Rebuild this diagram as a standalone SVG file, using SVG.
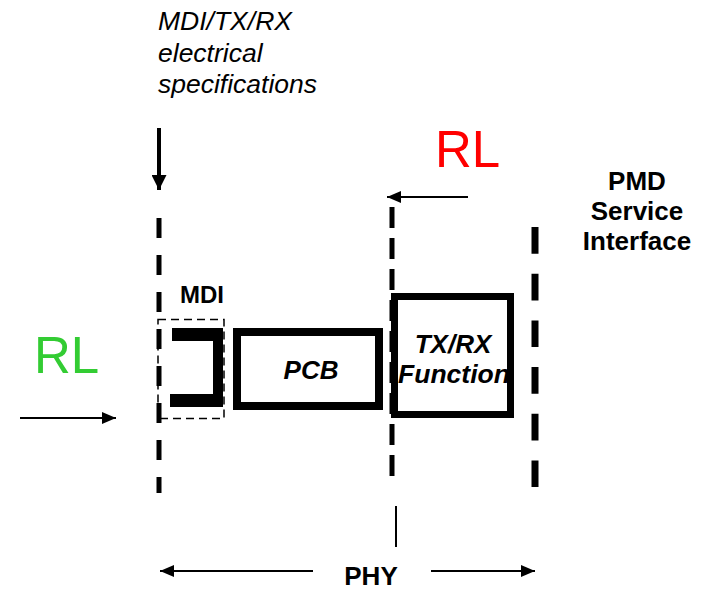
<svg xmlns="http://www.w3.org/2000/svg" width="706" height="590" viewBox="0 0 706 590">
<defs>
<style>
.t{font-family:"Liberation Sans",Arial,sans-serif;fill:#000}
.b{font-weight:bold}
.i{font-style:italic}
.ln{stroke:#000;fill:none}
.box{stroke:#000;fill:#fff}
</style>
<marker id="ah" viewBox="0 0 14 12" refX="14" refY="6" markerWidth="14" markerHeight="12" markerUnits="userSpaceOnUse" orient="auto">
<path d="M0,0 L14,6 L0,12 Z" fill="#000"/>
</marker>
<marker id="ahb" viewBox="0 0 15 15" refX="15" refY="7.5" markerWidth="15" markerHeight="15" markerUnits="userSpaceOnUse" orient="auto">
<path d="M0,0 L15,7.5 L0,15 Z" fill="#000"/>
</marker>
</defs>
<rect width="706" height="590" fill="#fff"/>

<g id="spec-label">
<text class="t i" x="158" y="30" font-size="26.5">MDI/TX/RX</text>
<text class="t i" x="158" y="62" font-size="26.5">electrical</text>
<text class="t i" x="158" y="93" font-size="26.5">specifications</text>
</g>

<g id="boundaries">
<line class="ln" x1="159" y1="218" x2="159" y2="493" stroke-width="5" stroke-dasharray="20 17"/>
<line class="ln" x1="392" y1="207" x2="392" y2="484" stroke-width="5" stroke-dasharray="21 10"/>
<line class="ln" x1="535" y1="227" x2="535" y2="487" stroke-width="7" stroke-dasharray="26.7 20"/>
</g>

<g id="mdi">
<rect x="158" y="319.5" width="66" height="99" fill="none" stroke="#000" stroke-width="1.5" stroke-dasharray="8 5"/>
<path d="M172,328 H223 V407 H170 V394 H213 V341 H172 Z" fill="#000"/>
<text class="t b" x="202" y="303" font-size="24" text-anchor="middle">MDI</text>
</g>

<g id="pcb">
<rect class="box" x="237" y="332" width="142" height="74" stroke-width="8"/>
<text class="t b i" x="311" y="379" font-size="26" text-anchor="middle">PCB</text>
</g>

<g id="txrx">
<rect class="box" x="394.5" y="296.5" width="116" height="118" stroke-width="7"/>
<text class="t b i" x="453" y="353" font-size="26" text-anchor="middle">TX/RX</text>
<text class="t b i" x="454" y="383" font-size="26.5" text-anchor="middle">Function</text>
</g>

<g id="pmd-label">
<text class="t b" x="637" y="190" font-size="26" text-anchor="middle">PMD</text>
<text class="t b" x="637" y="220" font-size="26" text-anchor="middle">Service</text>
<text class="t b" x="637" y="250" font-size="26" text-anchor="middle">Interface</text>
</g>

<g id="rl-red">
<text class="t" x="435" y="167" font-size="51" style="fill:#ff0000">RL</text>
</g>

<g id="rl-green">
<text class="t" x="34" y="373" font-size="51" style="fill:#33cc33">RL</text>
</g>

<g id="phy-label">
<text class="t b" x="371" y="585" font-size="26" text-anchor="middle">PHY</text>
</g>

<g id="connectors">
<line class="ln" x1="159" y1="128" x2="159" y2="190" stroke-width="4" marker-end="url(#ahb)"/>
<line class="ln" x1="468" y1="197" x2="387" y2="197" stroke-width="2" marker-end="url(#ah)"/>
<line class="ln" x1="20" y1="418" x2="116" y2="418" stroke-width="2" marker-end="url(#ah)"/>
<line class="ln" x1="313" y1="571" x2="160" y2="571" stroke-width="2" marker-end="url(#ah)"/>
<line class="ln" x1="431" y1="571" x2="535" y2="571" stroke-width="2" marker-end="url(#ah)"/>
<line class="ln" x1="396" y1="506" x2="396" y2="547" stroke-width="2"/>
</g>
</svg>
